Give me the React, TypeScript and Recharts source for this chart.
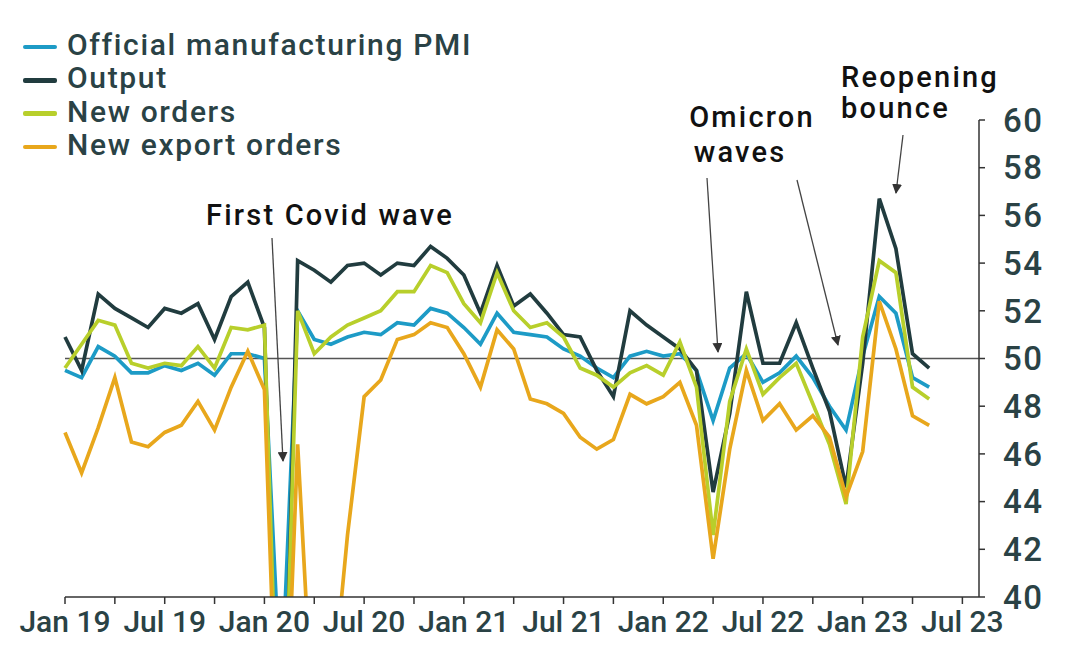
import { LineChart, Line, XAxis, YAxis, ReferenceLine, Legend } from "recharts"

// China NBS manufacturing PMI and sub-indices, Jan 2019 - May 2023
const pmi = [
  49.5, 49.2, 50.5, 50.1, 49.4, 49.4, 49.7, 49.5, 49.8, 49.3, 50.2, 50.2,
  50.0, 35.7, 52.0, 50.8, 50.6, 50.9, 51.1, 51.0, 51.5, 51.4, 52.1, 51.9,
  51.3, 50.6, 51.9, 51.1, 51.0, 50.9, 50.4, 50.1, 49.6, 49.2, 50.1, 50.3,
  50.1, 50.2, 49.5, 47.4, 49.6, 50.2, 49.0, 49.4, 50.1, 49.2, 48.0, 47.0,
  50.1, 52.6, 51.9, 49.2, 48.8,
]
const output = [
  50.9, 49.5, 52.7, 52.1, 51.7, 51.3, 52.1, 51.9, 52.3, 50.8, 52.6, 53.2,
  51.3, 27.8, 54.1, 53.7, 53.2, 53.9, 54.0, 53.5, 54.0, 53.9, 54.7, 54.2,
  53.5, 51.9, 53.9, 52.2, 52.7, 51.9, 51.0, 50.9, 49.5, 48.4, 52.0, 51.4,
  50.9, 50.4, 49.5, 44.4, 47.7, 52.8, 49.8, 49.8, 51.5, 49.6, 47.8, 44.6,
  49.8, 56.7, 54.6, 50.2, 49.6,
]
const newOrders = [
  49.6, 50.6, 51.6, 51.4, 49.8, 49.6, 49.8, 49.7, 50.5, 49.6, 51.3, 51.2,
  51.4, 29.3, 52.0, 50.2, 50.9, 51.4, 51.7, 52.0, 52.8, 52.8, 53.9, 53.6,
  52.3, 51.5, 53.6, 52.0, 51.3, 51.5, 50.9, 49.6, 49.3, 48.8, 49.4, 49.7,
  49.3, 50.7, 48.8, 42.6, 48.2, 50.4, 48.5, 49.2, 49.8, 48.1, 46.4, 43.9,
  50.9, 54.1, 53.6, 48.8, 48.3,
]
const exportOrders = [
  46.9, 45.2, 47.1, 49.2, 46.5, 46.3, 46.9, 47.2, 48.2, 47.0, 48.8, 50.3,
  48.7, 28.7, 46.4, 33.5, 35.3, 42.6, 48.4, 49.1, 50.8, 51.0, 51.5, 51.3,
  50.2, 48.8, 51.2, 50.4, 48.3, 48.1, 47.7, 46.7, 46.2, 46.6, 48.5, 48.1,
  48.4, 49.0, 47.2, 41.6, 46.2, 49.5, 47.4, 48.1, 47.0, 47.6, 46.7, 44.2,
  46.1, 52.4, 50.4, 47.6, 47.2,
]

const tickLabels = ["Jan 19", "Jul 19", "Jan 20", "Jul 20", "Jan 21", "Jul 21", "Jan 22", "Jul 22", "Jan 23", "Jul 23"]
const yTicks = [40, 42, 44, 46, 48, 50, 52, 54, 56, 58, 60]

const series = [
  { key: "pmi", name: "Official manufacturing PMI", color: "#1d9bc6" },
  { key: "output", name: "Output", color: "#213c3f" },
  { key: "newOrders", name: "New orders", color: "#b8cf2b" },
  { key: "exportOrders", name: "New export orders", color: "#e8a71c" },
]

const data = pmi.map((v, i) => ({
  i,
  pmi: v,
  output: output[i],
  newOrders: newOrders[i],
  exportOrders: exportOrders[i],
}))

const xTicks = Array.from({ length: 19 }, (_, k) => k * 3)

const textColor = "#2a4245"
const font = "Roboto, 'Noto Sans', sans-serif"

const renderLegend = () => (
  <div style={{ fontFamily: font }}>
    {series.map((s) => (
      <div key={s.key} style={{ display: "flex", alignItems: "center", height: 33.3 }}>
        <span
          style={{
            display: "inline-block",
            width: 34,
            height: 4.5,
            borderRadius: 2,
            background: s.color,
            marginRight: 10,
            marginTop: 5,
          }}
        />
        <span style={{ fontSize: 30, fontWeight: 500, letterSpacing: 1.65, color: textColor, lineHeight: "33px" }}>
          {s.name}
        </span>
      </div>
    ))}
  </div>
)

const Annotations = () => (
  <svg
    width={1069}
    height={664}
    style={{ position: "absolute", left: 0, top: 0, pointerEvents: "none" }}
  >
    <defs>
      <marker id="head" markerWidth="10" markerHeight="10" refX="9" refY="5" orient="auto" markerUnits="userSpaceOnUse">
        <path d="M0,0 L10,5 L0,10 Z" fill="#333" />
      </marker>
    </defs>
    <g stroke="#444" strokeWidth={1.3}>
      <line x1={272} y1={238} x2={283} y2={461} markerEnd="url(#head)" />
      <line x1={707} y1={178} x2={718} y2={352} markerEnd="url(#head)" />
      <line x1={797} y1={180} x2={838} y2={345} markerEnd="url(#head)" />
      <line x1={903} y1={135} x2={896} y2={193} markerEnd="url(#head)" />
    </g>
    <g fontFamily={font} fontSize={29} fontWeight={500} fill="#111" letterSpacing={2.2}>
      <text x={330} y={225} textAnchor="middle">First Covid wave</text>
      <text x={752} y={127} textAnchor="middle">Omicron</text>
      <text x={740} y={162} textAnchor="middle">waves</text>
      <text x={841} y={87}>Reopening</text>
      <text x={841} y={118}>bounce</text>
    </g>
  </svg>
)

export default function App() {
  return (
    <div style={{ position: "absolute", left: 0, top: 0, width: 1069, height: 664, background: "#fff" }}>
      <LineChart width={1069} height={664} data={data} margin={{ top: 120, right: 0, bottom: 27, left: 65 }}>
        <XAxis
          dataKey="i"
          type="number"
          domain={[0, 55]}
          ticks={xTicks}
          interval={0}
          tickFormatter={(v) => (v % 6 === 0 ? tickLabels[v / 6] : "")}
          axisLine={{ stroke: "#333", strokeWidth: 1.5 }}
          tickLine={{ stroke: "#333", strokeWidth: 1.5 }}
          tickSize={7}
          tickMargin={7}
          height={40}
          tick={{ fill: textColor, fontSize: 30, fontWeight: 500, fontFamily: font }}
        />
        <YAxis
          orientation="right"
          domain={[40, 60]}
          ticks={yTicks}
          interval={0}
          allowDataOverflow
          axisLine={{ stroke: "#333", strokeWidth: 1.5 }}
          tickLine={{ stroke: "#333", strokeWidth: 1.5 }}
          tickSize={6}
          tickMargin={18}
          width={90}
          tick={{ fill: textColor, fontSize: 33, fontWeight: 500, letterSpacing: 1.5, fontFamily: font, textAnchor: "start" }}
        />
        <ReferenceLine y={50} stroke="#555" strokeWidth={1.5} />
        <Legend
          layout="vertical"
          align="center"
          verticalAlign="middle"
          content={renderLegend}
          wrapperStyle={{ left: 23, top: 28, width: 520 }}
        />
        {series.map((s) => (
          <Line
            key={s.key}
            type="linear"
            dataKey={s.key}
            name={s.name}
            stroke={s.color}
            strokeWidth={3.7}
            dot={false}
            activeDot={false}
            isAnimationActive={false}
          />
        ))}
      </LineChart>
      <Annotations />
    </div>
  )
}
